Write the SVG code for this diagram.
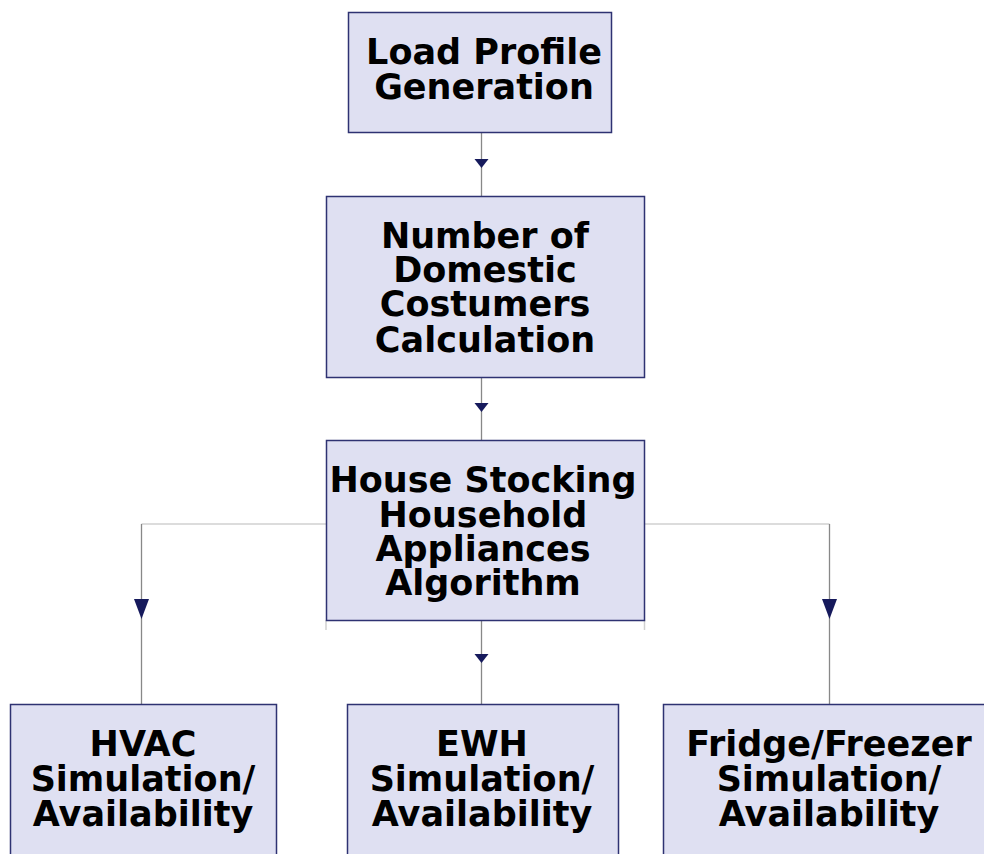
<svg xmlns="http://www.w3.org/2000/svg" width="984" height="854" viewBox="0 0 984 854">
<style>
.box{fill:#dfe0f2;stroke:#2e3272;stroke-width:1.5}
.t{font-family:"DejaVu Sans",Verdana,sans-serif;font-weight:bold;font-size:35px;fill:#000;text-anchor:middle}
.ln{fill:none;stroke:#888;stroke-width:1.3}
.lt{fill:none;stroke:#d0d0d0;stroke-width:1.5}
.ah{fill:#161a5c}
</style>
<rect width="984" height="854" fill="#fff"/>
<g id="connectors">
<line class="ln" x1="481.5" y1="132" x2="481.5" y2="196"/>
<polygon class="ah" points="474.5,159 488.5,159 481.5,168"/>
<line class="ln" x1="481.5" y1="377" x2="481.5" y2="440"/>
<polygon class="ah" points="474.5,403 488.5,403 481.5,412"/>
<line class="ln" x1="481.5" y1="620" x2="481.5" y2="704"/>
<polygon class="ah" points="474.5,654 488.5,654 481.5,663"/>
<polyline class="lt" points="326,524 141.5,524"/>
<line class="ln" x1="141.5" y1="524" x2="141.5" y2="704"/>
<polygon class="ah" points="134,599 149,599 141.5,619"/>
<polyline class="lt" points="644,524 829.5,524"/>
<line class="ln" x1="829.5" y1="524" x2="829.5" y2="704"/>
<polygon class="ah" points="822,599 837,599 829.5,619"/>
<line class="lt" x1="326" y1="620" x2="326" y2="630" stroke-width="1"/>
<line class="lt" x1="644.5" y1="620" x2="644.5" y2="630" stroke-width="1"/>
</g>
<g id="load-profile">
<rect class="box" x="348.5" y="12.5" width="263" height="120"/>
<text class="t" x="484" y="64">Load Profile</text>
<text class="t" x="484" y="99">Generation</text>
</g>
<g id="domestic">
<rect class="box" x="326.5" y="196.5" width="318" height="181"/>
<text class="t" x="485" y="248">Number of</text>
<text class="t" x="485" y="282">Domestic</text>
<text class="t" x="485" y="316">Costumers</text>
<text class="t" x="485" y="352">Calculation</text>
</g>
<g id="house-stocking">
<rect class="box" x="326.5" y="440.5" width="318" height="180"/>
<text class="t" x="483" y="492">House Stocking</text>
<text class="t" x="483" y="527">Household</text>
<text class="t" x="483" y="561">Appliances</text>
<text class="t" x="483" y="595">Algorithm</text>
</g>
<g id="hvac">
<rect class="box" x="10.5" y="704.5" width="266" height="160"/>
<text class="t" x="143" y="756">HVAC</text>
<text class="t" x="143" y="791">Simulation/</text>
<text class="t" x="143" y="826">Availability</text>
</g>
<g id="ewh">
<rect class="box" x="347.5" y="704.5" width="271" height="160"/>
<text class="t" x="482" y="756">EWH</text>
<text class="t" x="482" y="791">Simulation/</text>
<text class="t" x="482" y="826">Availability</text>
</g>
<g id="fridge">
<rect class="box" x="663.5" y="704.5" width="340" height="160"/>
<text class="t" x="829" y="756">Fridge/Freezer</text>
<text class="t" x="829" y="791">Simulation/</text>
<text class="t" x="829" y="826">Availability</text>
</g>
</svg>
